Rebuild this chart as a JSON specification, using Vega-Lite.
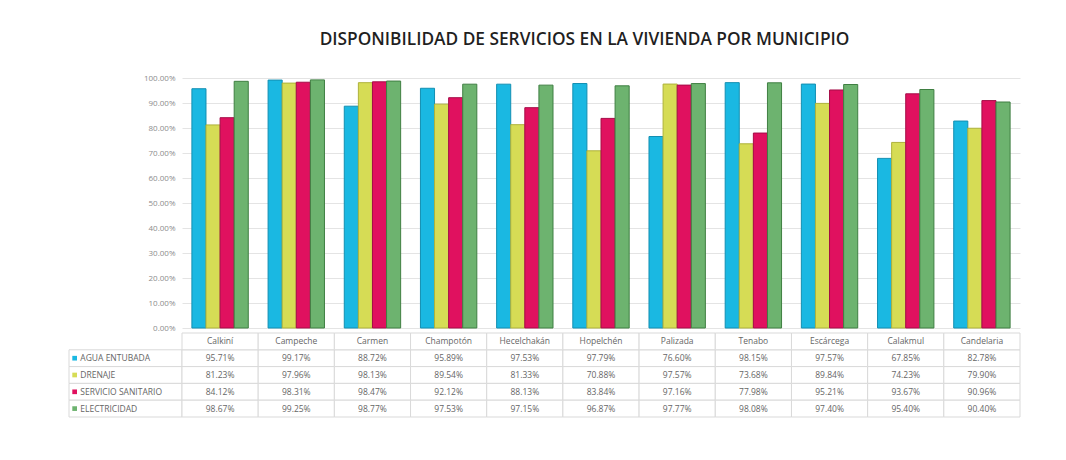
{
  "$schema": "https://vega.github.io/schema/vega-lite/v6.json",
  "background": "white",
  "padding": {"left": 68, "top": 30, "right": 40, "bottom": 10},
  "title": {"text": "DISPONIBILIDAD DE SERVICIOS EN LA VIVIENDA POR MUNICIPIO", "font": "Open Sans", "fontSize": 17.3, "fontWeight": 600, "color": "#1f1f1f", "anchor": "middle", "dx": 40, "offset": 26},
  "datasets": {
    "d": [
      {"municipio": "Calkiní", "servicio": "AGUA ENTUBADA", "valor": 0.9571},
      {"municipio": "Calkiní", "servicio": "DRENAJE", "valor": 0.8123},
      {"municipio": "Calkiní", "servicio": "SERVICIO SANITARIO", "valor": 0.8412},
      {"municipio": "Calkiní", "servicio": "ELECTRICIDAD", "valor": 0.9867},
      {"municipio": "Campeche", "servicio": "AGUA ENTUBADA", "valor": 0.9917},
      {"municipio": "Campeche", "servicio": "DRENAJE", "valor": 0.9796},
      {"municipio": "Campeche", "servicio": "SERVICIO SANITARIO", "valor": 0.9831},
      {"municipio": "Campeche", "servicio": "ELECTRICIDAD", "valor": 0.9925},
      {"municipio": "Carmen", "servicio": "AGUA ENTUBADA", "valor": 0.8872},
      {"municipio": "Carmen", "servicio": "DRENAJE", "valor": 0.9813},
      {"municipio": "Carmen", "servicio": "SERVICIO SANITARIO", "valor": 0.9847},
      {"municipio": "Carmen", "servicio": "ELECTRICIDAD", "valor": 0.9877},
      {"municipio": "Champotón", "servicio": "AGUA ENTUBADA", "valor": 0.9589},
      {"municipio": "Champotón", "servicio": "DRENAJE", "valor": 0.8954},
      {"municipio": "Champotón", "servicio": "SERVICIO SANITARIO", "valor": 0.9212},
      {"municipio": "Champotón", "servicio": "ELECTRICIDAD", "valor": 0.9753},
      {"municipio": "Hecelchakán", "servicio": "AGUA ENTUBADA", "valor": 0.9753},
      {"municipio": "Hecelchakán", "servicio": "DRENAJE", "valor": 0.8133},
      {"municipio": "Hecelchakán", "servicio": "SERVICIO SANITARIO", "valor": 0.8813},
      {"municipio": "Hecelchakán", "servicio": "ELECTRICIDAD", "valor": 0.9715},
      {"municipio": "Hopelchén", "servicio": "AGUA ENTUBADA", "valor": 0.9779},
      {"municipio": "Hopelchén", "servicio": "DRENAJE", "valor": 0.7088},
      {"municipio": "Hopelchén", "servicio": "SERVICIO SANITARIO", "valor": 0.8384},
      {"municipio": "Hopelchén", "servicio": "ELECTRICIDAD", "valor": 0.9687},
      {"municipio": "Palizada", "servicio": "AGUA ENTUBADA", "valor": 0.7660},
      {"municipio": "Palizada", "servicio": "DRENAJE", "valor": 0.9757},
      {"municipio": "Palizada", "servicio": "SERVICIO SANITARIO", "valor": 0.9716},
      {"municipio": "Palizada", "servicio": "ELECTRICIDAD", "valor": 0.9777},
      {"municipio": "Tenabo", "servicio": "AGUA ENTUBADA", "valor": 0.9815},
      {"municipio": "Tenabo", "servicio": "DRENAJE", "valor": 0.7368},
      {"municipio": "Tenabo", "servicio": "SERVICIO SANITARIO", "valor": 0.7798},
      {"municipio": "Tenabo", "servicio": "ELECTRICIDAD", "valor": 0.9808},
      {"municipio": "Escárcega", "servicio": "AGUA ENTUBADA", "valor": 0.9757},
      {"municipio": "Escárcega", "servicio": "DRENAJE", "valor": 0.8984},
      {"municipio": "Escárcega", "servicio": "SERVICIO SANITARIO", "valor": 0.9521},
      {"municipio": "Escárcega", "servicio": "ELECTRICIDAD", "valor": 0.9740},
      {"municipio": "Calakmul", "servicio": "AGUA ENTUBADA", "valor": 0.6785},
      {"municipio": "Calakmul", "servicio": "DRENAJE", "valor": 0.7423},
      {"municipio": "Calakmul", "servicio": "SERVICIO SANITARIO", "valor": 0.9367},
      {"municipio": "Calakmul", "servicio": "ELECTRICIDAD", "valor": 0.9540},
      {"municipio": "Candelaria", "servicio": "AGUA ENTUBADA", "valor": 0.8278},
      {"municipio": "Candelaria", "servicio": "DRENAJE", "valor": 0.7990},
      {"municipio": "Candelaria", "servicio": "SERVICIO SANITARIO", "valor": 0.9096},
      {"municipio": "Candelaria", "servicio": "ELECTRICIDAD", "valor": 0.9040}
    ],
    "series": [
      {"servicio": "AGUA ENTUBADA"},
      {"servicio": "DRENAJE"},
      {"servicio": "SERVICIO SANITARIO"},
      {"servicio": "ELECTRICIDAD"}
    ]
  },
  "columns": 2,
  "spacing": {"row": 5, "column": 0},
  "bounds": "flush",
  "config": {
    "view": {"stroke": null},
    "font": "Open Sans"
  },
  "concat": [
    {
      "width": 113,
      "height": 250,
      "data": {"values": [{"t": ""}]},
      "mark": {"type": "text", "opacity": 0},
      "encoding": {"text": {"field": "t"}}
    },
    {
      "width": 838,
      "height": 250,
      "data": {"name": "d"},
      "mark": {"type": "bar", "strokeWidth": 1},
      "encoding": {
        "x": {"field": "municipio", "type": "nominal", "sort": null, "axis": null,
              "scale": {"paddingInner": 0.26, "paddingOuter": 0.13}},
        "xOffset": {"field": "servicio", "type": "nominal",
                    "scale": {"domain": ["AGUA ENTUBADA", "DRENAJE", "SERVICIO SANITARIO", "ELECTRICIDAD"], "padding": 0}},
        "y": {"field": "valor", "type": "quantitative",
              "scale": {"domain": [0, 1]},
              "axis": {"title": null, "format": ".2%", "values": [0, 0.1, 0.2, 0.3, 0.4, 0.5, 0.6, 0.7, 0.8, 0.9, 1],
                       "labelFontSize": 8, "labelColor": "#8c8c8c", "ticks": false, "domain": false,
                       "labelPadding": 7, "gridColor": "#e4e4e4", "labelFont": "Open Sans"}},
        "color": {"field": "servicio", "type": "nominal", "legend": null,
                  "scale": {"domain": ["AGUA ENTUBADA", "DRENAJE", "SERVICIO SANITARIO", "ELECTRICIDAD"],
                            "range": ["#1ab8e2", "#d6dc55", "#e0115f", "#6db36f"]}},
        "stroke": {"field": "servicio", "type": "nominal", "legend": null,
                   "scale": {"domain": ["AGUA ENTUBADA", "DRENAJE", "SERVICIO SANITARIO", "ELECTRICIDAD"],
                             "range": ["#138fb2", "#aeb23b", "#a50c47", "#3f7f42"]}}
      }
    },
    {
      "width": 113,
      "height": 84,
      "data": {"name": "series"},
      "encoding": {
        "y": {"field": "servicio", "type": "nominal", "axis": null,
              "scale": {"domain": ["MUNICIPIO", "AGUA ENTUBADA", "DRENAJE", "SERVICIO SANITARIO", "ELECTRICIDAD"], "paddingInner": 0, "paddingOuter": 0}}
      },
      "layer": [
        {
          "mark": {"type": "rect", "fill": "white", "stroke": "#d9d9d9", "strokeWidth": 1},
          "encoding": {
            "x": {"datum": 0, "type": "quantitative", "scale": {"domain": [0, 1]}, "axis": null},
            "x2": {"datum": 1}
          }
        },
        {
          "mark": {"type": "point", "shape": "square", "filled": true, "size": 22, "opacity": 1},
          "encoding": {
            "x": {"datum": 0.05, "type": "quantitative", "scale": {"domain": [0, 1]}, "axis": null},
            "color": {"field": "servicio", "type": "nominal", "legend": null,
                      "scale": {"domain": ["AGUA ENTUBADA", "DRENAJE", "SERVICIO SANITARIO", "ELECTRICIDAD"],
                                "range": ["#1ab8e2", "#d6dc55", "#e0115f", "#6db36f"]}}
          }
        },
        {
          "mark": {"type": "text", "align": "left", "fontSize": 8.5, "color": "#666666"},
          "encoding": {
            "x": {"datum": 0.1, "type": "quantitative", "scale": {"domain": [0, 1]}, "axis": null},
            "text": {"field": "servicio"}
          }
        }
      ]
    },
    {
      "width": 838,
      "height": 84,
      "data": {"name": "d"},
      "encoding": {
        "x": {"field": "municipio", "type": "nominal", "sort": null, "axis": null,
              "scale": {"paddingInner": 0, "paddingOuter": 0}}
      },
      "layer": [
        {
          "mark": {"type": "rect", "fill": "white", "stroke": "#d9d9d9", "strokeWidth": 1},
          "encoding": {
            "y": {"field": "servicio", "type": "nominal", "axis": null,
                  "scale": {"domain": ["MUNICIPIO", "AGUA ENTUBADA", "DRENAJE", "SERVICIO SANITARIO", "ELECTRICIDAD"], "paddingInner": 0, "paddingOuter": 0}}
          }
        },
        {
          "transform": [{"filter": "datum.servicio === 'AGUA ENTUBADA'"}],
          "mark": {"type": "rect", "fill": "white", "stroke": "#d9d9d9", "strokeWidth": 1},
          "encoding": {
            "y": {"datum": "MUNICIPIO", "type": "nominal"}
          }
        },
        {
          "mark": {"type": "text", "fontSize": 8.5, "color": "#666666"},
          "encoding": {
            "y": {"field": "servicio", "type": "nominal"},
            "text": {"field": "valor", "type": "quantitative", "format": ".2%"}
          }
        },
        {
          "transform": [{"filter": "datum.servicio === 'AGUA ENTUBADA'"}],
          "mark": {"type": "text", "fontSize": 8.5, "color": "#666666"},
          "encoding": {
            "y": {"datum": "MUNICIPIO", "type": "nominal"},
            "text": {"field": "municipio"}
          }
        }
      ]
    }
  ]
}
